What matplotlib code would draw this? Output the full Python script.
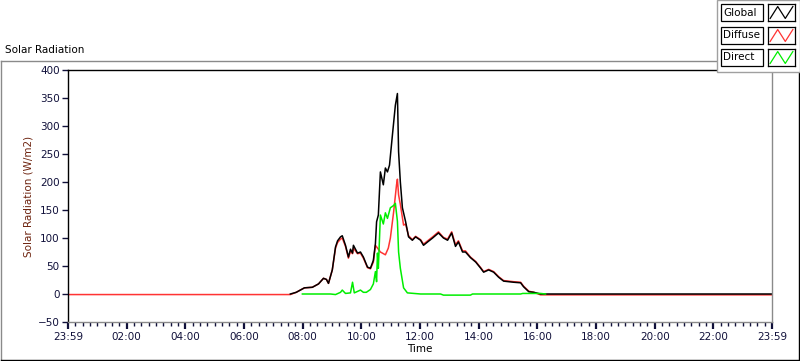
import numpy as np
import matplotlib.pyplot as plt
from matplotlib.patches import Rectangle
from matplotlib.lines import Line2D

# time in hours after 23:59 of previous day
t_global = [7.58, 7.78, 7.99, 8.06, 8.33, 8.54, 8.71, 8.81, 8.88, 9.01, 9.12, 9.19,
            9.29, 9.35, 9.46, 9.56, 9.63, 9.70, 9.73, 9.87, 9.97, 10.07, 10.21, 10.31,
            10.41, 10.48, 10.52, 10.58, 10.65, 10.75, 10.82, 10.89, 10.96, 11.06, 11.16,
            11.23, 11.27, 11.33, 11.40, 11.51, 11.61, 11.74, 11.85, 12.02, 12.12, 12.26,
            12.43, 12.63, 12.80, 12.94, 13.08, 13.21, 13.31, 13.45, 13.55, 13.72, 13.90,
            14.07, 14.17, 14.34, 14.51, 14.68, 14.85, 15.19, 15.43, 15.53, 15.71, 15.88,
            16.11, 24]
global_rad = [0, 3, 9, 11, 12, 18, 28, 26, 19, 43, 84, 95,
              102, 104, 87, 66, 80, 73, 87, 73, 75, 66, 48, 46,
              60, 90, 129, 141, 218, 195, 225, 218, 230, 284, 337,
              358, 254, 200, 154, 129, 102, 96, 102, 96, 87, 93,
              100, 109, 100, 96, 109, 85, 93, 75, 75, 65, 57,
              46, 39, 43, 39, 30, 23, 21, 20, 13, 4, 3,
              0, 0]

t_diffuse = [0, 7.58, 7.78, 7.99, 8.06, 8.33, 8.54, 8.71, 8.81, 8.88, 9.01, 9.12, 9.19,
             9.29, 9.35, 9.46, 9.56, 9.63, 9.70, 9.73, 9.87, 9.97, 10.07, 10.21, 10.31,
             10.41, 10.48, 10.58, 10.65, 10.82, 10.92, 10.99, 11.10, 11.20, 11.23, 11.27,
             11.33, 11.44, 11.51, 11.61, 11.74, 11.85, 12.02, 12.12, 12.26,
             12.43, 12.63, 12.80, 12.94, 13.08, 13.21, 13.31, 13.45, 13.55, 13.72, 13.90,
             14.07, 14.17, 14.34, 14.51, 14.68, 14.85, 15.19, 15.43, 15.53, 15.71, 15.88,
             16.11, 24]
diffuse_rad = [-1, -1, 3, 9, 11, 12, 18, 28, 26, 19, 43, 82, 92,
               98, 100, 85, 64, 76, 72, 82, 72, 73, 64, 47, 45,
               57, 87, 80, 75, 70, 82, 100, 146, 195, 205, 177,
               160, 123, 125, 104, 97, 103, 97, 89, 95,
               102, 111, 101, 98, 111, 88, 95, 77, 77, 66, 58,
               47, 40, 44, 40, 31, 24, 22, 21, 14, 5, 3,
               -1.5, -1.5]

t_direct = [7.99, 8.95, 9.12, 9.29, 9.35, 9.46, 9.63, 9.70, 9.76, 9.97, 10.07, 10.17,
            10.31, 10.41, 10.48, 10.52, 10.55, 10.58, 10.65, 10.75, 10.82, 10.89, 10.99,
            11.10, 11.16, 11.23, 11.27, 11.33, 11.44, 11.57, 12.02, 12.70, 12.80, 13.72,
            13.79, 15.43, 15.50, 16.11, 16.28]
direct_rad = [0, 0, -1, 3, 7, 1, 2, 21, 2, 7, 3, 3,
              8, 18, 40, 22, 73, 46, 141, 125, 145, 135, 154,
              158, 162, 130, 75, 46, 11, 2, 0, 0, -2, -2,
              0, 0, 1, 1, 0]

series = ["Global", "Diffuse", "Direct"]
colors = ["#000000", "#ff3333", "#00ee00"]

xtick_pos = list(range(0, 25, 2))
xtick_labels = ["23:59", "02:00", "04:00", "06:00", "08:00", "10:00", "12:00",
                "14:00", "16:00", "18:00", "20:00", "22:00", "23:59"]
ytick_pos = list(range(-50, 401, 50))

W, H = 800, 361
fig = plt.figure(figsize=(W / 100, H / 100), dpi=100)
plt.rcParams['font.family'] = ['DejaVu Sans']


def fx(x):
    return x / W


def fy(y):
    return 1 - y / H


ax = fig.add_axes([fx(68), fy(322), fx(772 - 68), (322 - 70) / H])
ax.plot(t_diffuse, diffuse_rad, color=colors[1], lw=1.1)
ax.plot(t_global, global_rad, color=colors[0], lw=1.1)
ax.plot(t_direct, direct_rad, color=colors[2], lw=1.1)

ax.set_xlim(0, 24)
ax.set_ylim(-50, 400)
ax.set_xticks(xtick_pos)
ax.set_xticklabels(xtick_labels)
ax.set_xticks(np.arange(0, 24.01, 0.25), minor=True)
ax.set_yticks(ytick_pos)
tick_col = "#10103a"
ax.tick_params(axis='both', which='major', labelsize=7.5, labelcolor=tick_col,
               color=tick_col, direction='out')
ax.tick_params(axis='x', which='major', length=5, width=1.6, pad=2)
ax.tick_params(axis='x', which='minor', length=3, width=1, color=tick_col)
ax.tick_params(axis='y', which='major', length=4, width=1, pad=2)
ax.set_xlabel("Time", fontsize=7.5, labelpad=2)
ax.set_ylabel("Solar Radiation (W/m2)", fontsize=7.5, color="#6e2410", labelpad=3)

ax.spines['left'].set_color('black')
ax.spines['top'].set_color('black')
ax.spines['right'].set_color('#8a8a8a')
ax.spines['bottom'].set_color('#8a8a8a')
for s in ax.spines.values():
    s.set_linewidth(1.0)

# outer frame
fig.add_artist(Line2D([fx(1), fx(717)], [fy(61), fy(61)], color='#8a8a8a', lw=1))
fig.add_artist(Line2D([fx(1), fx(1)], [fy(61), fy(360)], color='#8a8a8a', lw=1))
fig.add_artist(Line2D([fx(1), fx(799)], [fy(360), fy(360)], color='black', lw=1))
fig.add_artist(Line2D([fx(799), fx(799)], [fy(72), fy(360)], color='black', lw=1))

fig.text(fx(5), fy(50), "Solar Radiation", fontsize=7.5, va='center', ha='left')

# legend panel
fig.add_artist(Rectangle((fx(717), fy(72)), fx(83), 72 / H, transform=fig.transFigure,
                         facecolor='white', edgecolor='#a0a0a0', lw=1, zorder=3))
row_tops = [4, 27, 49]
for name, col, top in zip(series, colors, row_tops):
    fig.add_artist(Rectangle((fx(721), fy(top + 17)), fx(42), 17 / H,
                             transform=fig.transFigure, facecolor='white',
                             edgecolor='black', lw=0.9, zorder=4))
    fig.text(fx(723), fy(top + 8.5), name, fontsize=7.5, va='center', ha='left',
             zorder=5)
    iax = fig.add_axes([fx(768), fy(top + 17), fx(27), 17 / H], zorder=5)
    iax.plot([0.08, 0.36, 0.64, 0.92], [0.15, 0.85, 0.15, 0.85], color=col, lw=0.9)
    iax.set_xlim(0, 1)
    iax.set_ylim(0, 1)
    iax.set_xticks([])
    iax.set_yticks([])
    for s in iax.spines.values():
        s.set_color('black')
        s.set_linewidth(0.9)

fig.savefig("out.png", dpi=100)
